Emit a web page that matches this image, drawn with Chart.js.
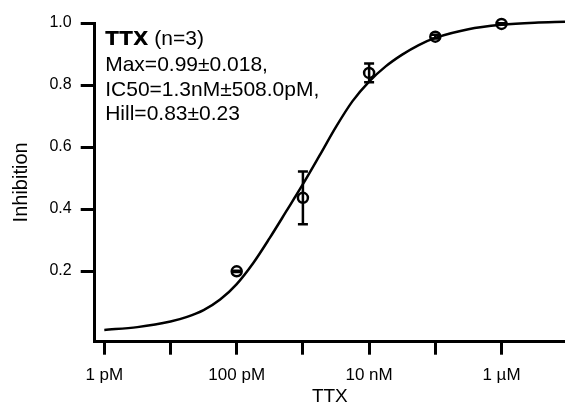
<!DOCTYPE html>
<html>
<head>
<meta charset="utf-8">
<script src="https://cdn.jsdelivr.net/npm/chart.js@4.4.0/dist/chart.umd.min.js"></script>
<style>
  html, body { margin: 0; padding: 0; background: #fff; overflow: hidden; }
  canvas { display: block; }
</style>
</head>
<body>
<canvas id="myChart" width="565" height="405"></canvas>
<script>
// measured points (molar) with error
const doses = [1e-10, 1e-9, 1e-8, 1e-7, 1e-6]
const inhibition = [0.199, 0.436, 0.839, 0.956, 0.997]
const inhibitionErr = [0.002, 0.085, 0.03, 0.006, 0.002]

// fitted curve
const fitDoses = [1e-12, 3.16e-12, 1e-11, 1.78e-11, 3.16e-11, 5.62e-11, 1e-10, 1.78e-10, 3.16e-10, 5.62e-10,
  1e-9, 1.78e-9, 3.16e-9, 5.62e-9, 1e-8, 1.78e-8, 3.16e-8, 5.62e-8, 1e-7, 3.16e-7, 1e-6, 3.16e-6, 9.1e-6]
const fitInhibition = [0.010, 0.019, 0.037, 0.052, 0.074, 0.108, 0.158, 0.226, 0.307, 0.393,
  0.480, 0.572, 0.665, 0.748, 0.811, 0.860, 0.898, 0.929, 0.952, 0.980, 0.994, 1.001, 1.004]

const xTickValues = [1e-12, 1e-11, 1e-10, 1e-9, 1e-8, 1e-7, 1e-6]
const xTickLabels = ['1 pM', '', '100 pM', '', '10 nM', '', '1 µM']
const yTickValues = [0.2, 0.4, 0.6, 0.8, 1.0]

const drugName = 'TTX'
const nCells = 3
const fitLines = ['Max=0.99±0.018,', 'IC50=1.3nM±508.0pM,', 'Hill=0.83±0.23']

Chart.defaults.font.family = 'Liberation Sans'
Chart.defaults.color = '#000'

const errorBars = {
  id: 'errorBars',
  afterDatasetsDraw(chart) {
    const {ctx, scales: {x, y}} = chart
    ctx.save()
    ctx.strokeStyle = '#000'
    ctx.lineWidth = 2.5
    doses.forEach((d, i) => {
      const px = x.getPixelForValue(d)
      const top = y.getPixelForValue(inhibition[i] + inhibitionErr[i])
      const bottom = y.getPixelForValue(inhibition[i] - inhibitionErr[i])
      ctx.beginPath()
      ctx.moveTo(px, top)
      ctx.lineTo(px, bottom)
      ctx.moveTo(px - 5, top)
      ctx.lineTo(px + 5, top)
      ctx.moveTo(px - 5, bottom)
      ctx.lineTo(px + 5, bottom)
      ctx.stroke()
    })
    ctx.restore()
  }
}

const infoText = {
  id: 'infoText',
  afterDraw(chart) {
    const c = chart.ctx
    const left = chart.chartArea.left + 10.5
    c.save()
    c.fillStyle = '#000'
    c.textBaseline = 'alphabetic'
    c.font = 'bold 20px "DejaVu Sans"'
    c.fillText(drugName, left, 45)
    const w = c.measureText(drugName).width
    c.font = '21px "Liberation Sans"'
    c.fillText('(n=' + nCells + ')', left + w + 6, 45)
    fitLines.forEach((t, i) => c.fillText(t, left, 71 + i * 24.5))
    c.restore()
  }
}

const createChart = () => {
  const ctx = document.getElementById('myChart')

  const data = {
    datasets: [{
      label: 'TTX',
      data: doses.map((d, i) => ({x: d, y: inhibition[i]})),
      showLine: false,
      pointRadius: 5,
      pointBorderWidth: 2.5,
      pointBackgroundColor: 'rgba(0,0,0,0)',
      pointBorderColor: '#000',
      clip: false
    }, {
      label: 'fit',
      data: fitDoses.map((d, i) => ({x: d, y: fitInhibition[i]})),
      showLine: true,
      borderColor: '#000',
      borderWidth: 2.5,
      pointRadius: 0,
      cubicInterpolationMode: 'monotone',
      clip: false
    }]
  }

  new Chart(ctx, {
    type: 'scatter',
    data: data,
    plugins: [errorBars, infoText],
    options: {
      responsive: false,
      animation: false,
      layout: { autoPadding: false, padding: { top: 23, left: 0, right: 0, bottom: 0 } },
      plugins: { legend: { display: false }, tooltip: { enabled: false } },
      scales: {
        x: {
          type: 'logarithmic',
          bounds: 'data',
          min: 7.16e-13,
          max: 9.1e-6,
          afterBuildTicks: s => { s.ticks = xTickValues.map(v => ({value: v})) },
          afterFit: s => {
            s.height = 63.3
            s.paddingLeft = 0
            s.paddingRight = 0
          },
          ticks: {
            autoSkip: false,
            maxRotation: 0,
            padding: 10,
            color: '#000',
            font: { size: 17 },
            callback: (v, i) => xTickLabels[i]
          },
          grid: { drawOnChartArea: false, tickLength: 13, lineWidth: 3, color: '#000' },
          border: { width: 3, color: '#000' },
          title: { display: true, text: 'TTX', color: '#000', font: { size: 19, lineHeight: 0.9 }, padding: 0 }
        },
        y: {
          min: -0.028,
          max: 1.0,
          afterBuildTicks: s => { s.ticks = yTickValues.map(v => ({value: v})) },
          afterFit: s => {
            s.width = 94.7
            s.paddingTop = 0
            s.paddingBottom = 0
          },
          ticks: {
            padding: 9,
            color: '#000',
            font: { size: 16 },
            callback: v => v.toFixed(1)
          },
          grid: { drawOnChartArea: false, tickLength: 14, lineWidth: 3, color: '#000' },
          border: { width: 3, color: '#000' },
          title: { display: true, text: 'Inhibition', color: '#000', font: { size: 20, lineHeight: 1 }, padding: { top: 11, bottom: 0 } }
        }
      }
    }
  })
}

createChart()
</script>
</body>
</html>
